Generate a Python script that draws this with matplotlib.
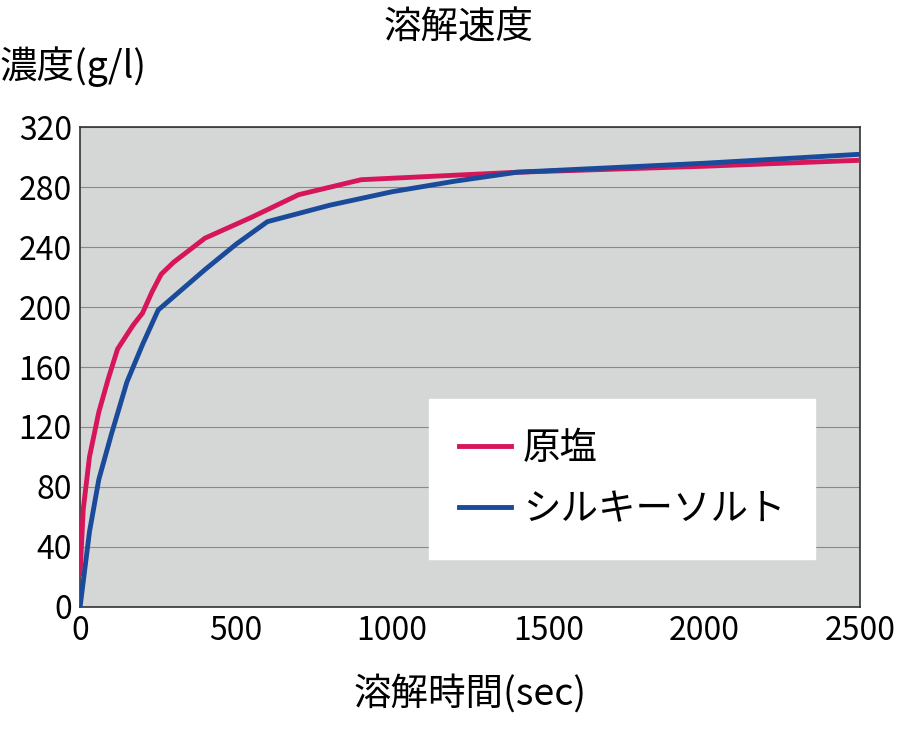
import matplotlib
matplotlib.use("Agg")
import matplotlib.pyplot as plt

plt.rcParams['font.family'] = ['Noto Sans CJK JP', 'DejaVu Sans']

red_x = [0, 10, 30, 60, 90, 120, 170, 200, 230, 260, 300, 400, 550, 700, 900, 1000, 1400, 2000, 2500]
red_y = [22, 65, 100, 130, 152, 172, 188, 196, 210, 222, 230, 246, 260, 275, 285, 286, 290, 294, 298]
blue_x = [0, 30, 60, 100, 150, 200, 250, 300, 400, 500, 600, 800, 1000, 1200, 1400, 1600, 2000, 2500]
blue_y = [0, 50, 85, 115, 150, 175, 198, 207, 225, 242, 257, 268, 277, 284, 290, 292, 296, 302]
series_names = ['原塩', 'シルキーソルト']
xticks = [0, 500, 1000, 1500, 2000, 2500]
yticks = [0, 40, 80, 120, 160, 200, 240, 280, 320]

fig = plt.figure(figsize=(9, 7.4), dpi=100)
ax = fig.add_axes([0.089, 0.18, 0.867, 0.648])
ax.set_facecolor('#d5d7d7')
ax.plot(red_x, red_y, color='#d7155a', lw=3.5, label=series_names[0], zorder=3)
ax.plot(blue_x, blue_y, color='#1a4a9a', lw=3.5, label=series_names[1], zorder=3)
ax.set_xlim(0, 2500)
ax.set_ylim(0, 320)
ax.set_xticks(xticks)
ax.set_yticks(yticks)
ax.grid(axis='y', color='#8a8a8a', lw=0.8)
ax.tick_params(labelsize=23, length=0, pad=6)
for s in ax.spines.values():
    s.set_color('#333333')
    s.set_linewidth(1.2)
ax.set_xlabel('溶解時間(sec)', fontsize=27, labelpad=20)
fig.text(0.51, 0.962, '溶解速度', fontsize=27, ha='center', va='center')
fig.text(0.0, 0.91, '濃度(g/l)', fontsize=27, ha='left', va='center')
leg = ax.legend(loc='lower right', bbox_to_anchor=(0.966, 0.06), fontsize=27,
                frameon=True, fancybox=False, edgecolor='white', facecolor='white',
                framealpha=1, handlelength=1.4, borderpad=0.8, labelspacing=0.6,
                handletextpad=0.3)
fig.savefig('out.png', dpi=100)
